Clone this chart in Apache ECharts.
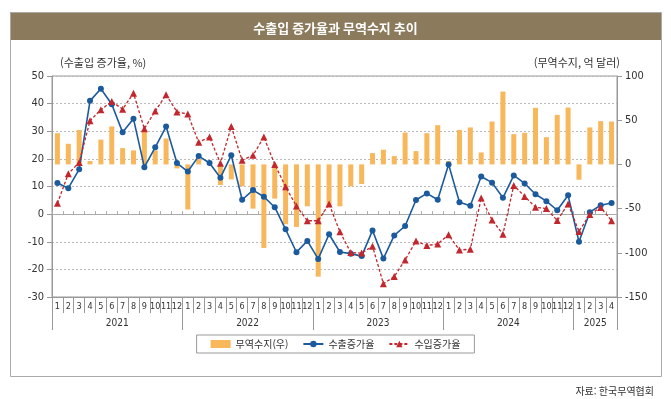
<!DOCTYPE html>
<html lang="ko">
<head>
<meta charset="UTF-8">
<title>수출입 증가율과 무역수지 추이</title>
<script src="https://cdn.jsdelivr.net/npm/echarts@6/dist/echarts.min.js"></script>
<style>
    html, body { margin: 0; padding: 0; background: #fff; }
    #main { width: 671px; height: 399px; }
</style>
</head>
<body>
<div id="main"></div>
<script>
    // 월 (2021.1 ~ 2025.4)
    var months = [
        '1','2','3','4','5','6','7','8','9','10','11','12',
        '1','2','3','4','5','6','7','8','9','10','11','12',
        '1','2','3','4','5','6','7','8','9','10','11','12',
        '1','2','3','4','5','6','7','8','9','10','11','12',
        '1','2','3','4'
    ];
    var yearNames = ['2021', '2022', '2023', '2024', '2025'];
    var yearCenters = [6, 18, 30, 42, 50];
    var yearBounds = [0, 12, 24, 36, 48, 52];

    // 수출증가율 (%)
    var exportRate = [
        11.3, 9.4, 16.2, 41.0, 45.4, 39.8, 29.6, 34.5, 17.0, 24.2, 31.7, 18.5,
        15.4, 21.0, 18.5, 13.2, 21.3, 5.2, 8.7, 6.3, 2.5, -5.5, -13.8, -9.7,
        -16.2, -7.3, -13.7, -14.3, -15.2, -5.9, -16.1, -7.7, -4.3, 5.1, 7.5, 5.2,
        18.0, 4.3, 3.0, 13.6, 11.4, 5.9, 14.0, 11.1, 7.2, 4.7, 1.4, 6.8,
        -10.0, 0.7, 3.2, 4.0
    ];
    // 수입증가율 (%)
    var importRate = [
        3.9, 14.6, 18.7, 33.8, 37.8, 40.8, 38.0, 43.8, 30.9, 37.3, 43.2, 37.0,
        36.2, 26.0, 27.9, 18.4, 31.7, 19.5, 21.3, 27.9, 18.0, 9.9, 2.9, -2.4,
        -2.4, 3.7, -6.4, -13.9, -14.1, -11.6, -25.2, -22.6, -16.6, -9.7, -11.4, -10.8,
        -7.5, -13.0, -12.7, 5.8, -2.1, -7.3, 10.4, 6.4, 2.5, 2.0, -2.3, 3.7,
        -6.3, -0.1, 2.4, -2.4
    ];
    // 무역수지 (억 달러)
    var tradeBalance = [
        35.3, 23.3, 39.0, 3.8, 28.0, 43.0, 18.4, 15.8, 37.0, 15.8, 29.3, -4.5,
        -51.0, 6.0, 1.0, -23.3, -17.0, -24.8, -50.0, -94.5, -38.7, -67.7, -70.7, -47.4,
        -127.0, -47.0, -47.4, -24.8, -22.2, 12.8, 16.6, 9.4, 36.0, 15.0, 35.3, 44.4,
        3.8, 39.0, 41.8, 13.5, 48.5, 82.4, 34.2, 35.7, 64.0, 30.8, 56.0, 64.3,
        -17.3, 41.8, 48.9, 48.5
    ];

    var numFont = "'Liberation Sans Narrow', 'DejaVu Sans Condensed', 'Noto Sans CJK KR', sans-serif";
    var krFont = "'Noto Sans CJK KR', sans-serif";

    var myChart = echarts.init(document.getElementById('main'));

    var option = {
        animation: false,
        title: [
            {
                text: '수출입 증가율과 무역수지 추이',
                left: 'center',
                top: 17,
                textStyle: { color: '#fff', fontSize: 13, fontWeight: 'bold', fontFamily: krFont }
            },
            {
                text: '자료: 한국무역협회',
                right: 12,
                top: 381,
                textStyle: { color: '#333', fontSize: 10, fontWeight: 'normal', fontFamily: krFont }
            }
        ],
        graphic: [
            {
                type: 'rect',
                z: -10,
                shape: { x: 10, y: 12, width: 651, height: 28 },
                style: { fill: '#8B7A5B' }
            },
            {
                type: 'rect',
                z: -10,
                shape: { x: 10.5, y: 12.5, width: 651, height: 364 },
                style: { fill: 'none', stroke: '#aaa', lineWidth: 1 }
            }
        ],
        legend: {
            top: 335,
            left: 'center',
            borderColor: '#999',
            borderWidth: 1,
            padding: [4, 14, 4, 14],
            itemGap: 14,
            itemWidth: 20,
            itemHeight: 8,
            textStyle: { color: '#333', fontSize: 10, fontFamily: krFont },
            data: [
                { name: '무역수지(우)', icon: 'rect' },
                { name: '수출증가율' },
                { name: '수입증가율' }
            ]
        },
        grid: {
            left: 52,
            right: 54,
            top: 76,
            bottom: 102,
            show: true,
            borderColor: '#999',
            borderWidth: 1
        },
        xAxis: [
            {
                type: 'category',
                data: months,
                position: 'bottom',
                axisLine: { onZero: true, lineStyle: { color: '#aaa' } },
                axisTick: { show: true, inside: true, length: 3, interval: 0, lineStyle: { color: '#aaa' } },
                axisLabel: { show: false },
                splitLine: { show: false }
            },
            {
                type: 'category',
                data: months,
                position: 'bottom',
                axisLine: { onZero: false, lineStyle: { color: '#999' } },
                axisTick: { show: true, length: 16, interval: 0, lineStyle: { color: '#999' } },
                axisLabel: { interval: 0, margin: 5, fontSize: 9, color: '#333', fontFamily: numFont },
                splitLine: { show: false }
            },
            {
                type: 'value',
                min: 0,
                max: 52,
                position: 'bottom',
                axisLine: { show: false, onZero: false },
                axisTick: { show: true, length: 33, customValues: yearBounds, lineStyle: { color: '#999' } },
                axisLabel: {
                    margin: 21,
                    fontSize: 10,
                    color: '#333',
                    fontFamily: numFont,
                    customValues: yearCenters,
                    formatter: function (v) {
                        var i = yearCenters.indexOf(v);
                        return i >= 0 ? yearNames[i] : '';
                    }
                },
                splitLine: { show: false }
            }
        ],
        yAxis: [
            {
                type: 'value',
                position: 'left',
                min: -30,
                max: 50,
                interval: 10,
                name: '(수출입 증가율, %)',
                nameLocation: 'end',
                nameGap: 8,
                nameTextStyle: { align: 'left', color: '#333', fontSize: 11, fontFamily: krFont, padding: [0, 0, 0, 8] },
                axisLine: { show: true, lineStyle: { color: '#999' } },
                axisTick: { show: true, length: 5, lineStyle: { color: '#999' } },
                axisLabel: { color: '#333', fontSize: 11, margin: 8, fontFamily: numFont },
                splitLine: { show: true, lineStyle: { color: '#bbb', type: [2, 2] } }
            },
            {
                type: 'value',
                position: 'right',
                min: -150,
                max: 100,
                interval: 50,
                name: '(무역수지, 억 달러)',
                nameLocation: 'end',
                nameGap: 8,
                nameTextStyle: { align: 'right', color: '#333', fontSize: 11, fontFamily: krFont, padding: [0, -3, 0, 0] },
                axisLine: { show: true, lineStyle: { color: '#999' } },
                axisTick: { show: true, length: 5, lineStyle: { color: '#999' } },
                axisLabel: { color: '#333', fontSize: 11, margin: 8, fontFamily: numFont },
                splitLine: { show: false }
            }
        ],
        series: [
            {
                name: '무역수지(우)',
                type: 'bar',
                xAxisIndex: 0,
                yAxisIndex: 1,
                barWidth: 5,
                itemStyle: { color: '#F8B75B' },
                data: tradeBalance
            },
            {
                name: '수출증가율',
                type: 'line',
                xAxisIndex: 0,
                yAxisIndex: 0,
                symbol: 'circle',
                symbolSize: 6,
                itemStyle: { color: '#1B5A9C' },
                lineStyle: { width: 1.6, color: '#1B5A9C' },
                data: exportRate
            },
            {
                name: '수입증가율',
                type: 'line',
                xAxisIndex: 0,
                yAxisIndex: 0,
                symbol: 'triangle',
                symbolSize: 7,
                itemStyle: { color: '#C1272D' },
                lineStyle: { width: 1.3, color: '#C1272D', type: [3, 2] },
                data: importRate
            }
        ]
    };

    myChart.setOption(option);
</script>
</body>
</html>
